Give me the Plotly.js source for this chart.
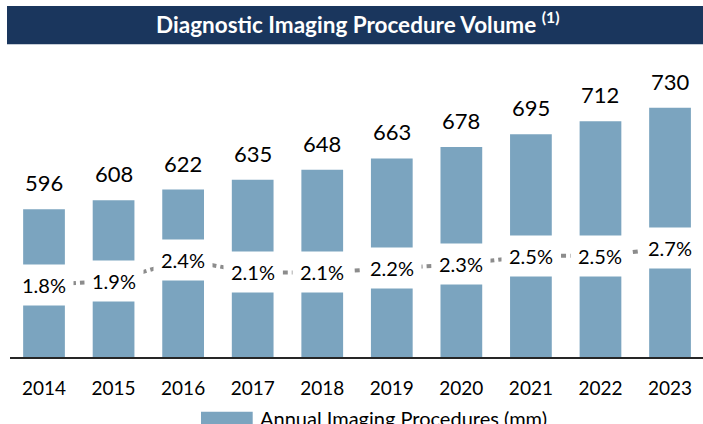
<!DOCTYPE html>
<html>
<head>
<meta charset="utf-8">
<script src="https://cdn.plot.ly/plotly-3.0.1.min.js"></script>
<style>
  html, body { margin: 0; padding: 0; background: #fff; }
  #chart { width: 703px; height: 424px; }
</style>
</head>
<body>
<div id="chart"></div>
<script>
// ---- data ----
const years = ['2014','2015','2016','2017','2018','2019','2020','2021','2022','2023'];
const procedures = [596, 608, 622, 635, 648, 663, 678, 695, 712, 730];
const growthPct = [1.8, 1.9, 2.4, 2.1, 2.1, 2.2, 2.3, 2.5, 2.5, 2.7];
const seriesName = 'Annual Imaging Procedures (mm)';
const chartTitle = 'Diagnostic Imaging Procedure Volume <sup>(1)</sup>';

// ---- styles ----
const FONT = 'Lato, "Open Sans", sans-serif';
const BAR = '#7BA4BF';
const NAVY = '#1A365D';
const DOT = '#8C8C8C';

const W = 703, H = 424;
const M = {l: 10, r: 0, t: 60, b: 67};
const plotH = H - M.t - M.b;
const px = (p) => (H - M.b - p) / plotH;        // pixel y -> paper y
const pxX = (p) => (p - M.l) / (W - M.l - M.r); // pixel x -> paper x

const barTrace = {
  type: 'bar', x: years, y: procedures, name: seriesName,
  marker: {color: BAR, line: {width: 0}}, width: 0.6,
  hoverinfo: 'skip', showlegend: false, yaxis: 'y'
};
const growthLine = {
  type: 'scatter', mode: 'lines', x: years, y: growthPct, yaxis: 'y2',
  line: {color: DOT, width: 4, dash: '5px,4px'},
  hoverinfo: 'skip', showlegend: false
};

const annotations = [];
years.forEach((yr, i) => {
  // category axis: position by category index
  annotations.push({
    x: i, y: procedures[i], xref: 'x', yref: 'y',
    text: String(procedures[i]), showarrow: false,
    yanchor: 'bottom', yshift: 11,
    font: {family: FONT, size: 22, color: '#000'}
  });
  annotations.push({
    x: i, y: growthPct[i], xref: 'x', yref: 'y2',
    text: growthPct[i].toFixed(1) + '%', showarrow: false,
    bgcolor: '#ffffff', width: 56, height: 38, valign: 'middle',
    font: {family: FONT, size: 20, color: '#000'}
  });
});
// legend text
annotations.push({
  xref: 'paper', yref: 'paper', x: pxX(258), y: px(418),
  xanchor: 'left', yanchor: 'middle', showarrow: false,
  text: seriesName, font: {family: FONT, size: 20, color: '#000'}
});

const layout = {
  width: W, height: H, margin: M,
  paper_bgcolor: '#fff', plot_bgcolor: '#fff',
  title: {
    text: chartTitle, xref: 'paper', x: pxX(357.8), xanchor: 'center',
    yref: 'container', y: 1 - 25 / H, yanchor: 'middle',
    font: {family: FONT, size: 22.5, color: '#fff', weight: 700}
  },
  xaxis: {
    type: 'category', range: [-0.489, 9.474], fixedrange: true,
    showline: true, linecolor: '#262626', linewidth: 2,
    ticks: '', showgrid: false, zeroline: false,
    ticklabelstandoff: 13,
    tickfont: {family: FONT, size: 19, color: '#000'}
  },
  yaxis: {
    range: [401.2, 792.9], visible: false, showgrid: false, zeroline: false, fixedrange: true
  },
  yaxis2: {
    overlaying: 'y', range: [0.0572, 7.2311], visible: false,
    showgrid: false, zeroline: false, fixedrange: true
  },
  bargap: 0.4,
  showlegend: false,
  shapes: [
    { type: 'rect', xref: 'paper', yref: 'paper',
      x0: pxX(7), x1: 1, y0: px(44.3), y1: px(6),
      fillcolor: NAVY, line: {width: 0}, layer: 'below' },
    { type: 'rect', xref: 'paper', yref: 'paper',
      x0: pxX(201), x1: pxX(252.7), y0: px(424), y1: px(411.7),
      fillcolor: BAR, line: {width: 0} }
  ],
  annotations: annotations
};

Plotly.newPlot('chart', [barTrace, growthLine], layout, {staticPlot: true, displayModeBar: false});
</script>
</body>
</html>
